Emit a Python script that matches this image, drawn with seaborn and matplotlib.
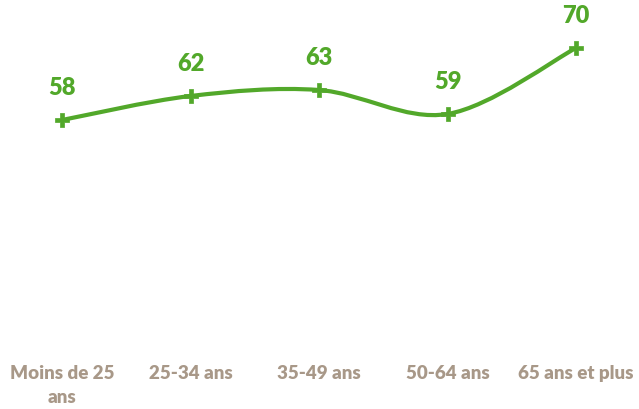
import numpy as np
import pandas as pd
import seaborn as sns
import matplotlib
matplotlib.use("Agg")
import matplotlib.pyplot as plt
from matplotlib.path import Path
from matplotlib.patches import PathPatch

categories = ["Moins de 25\nans", "25-34 ans", "35-49 ans", "50-64 ans", "65 ans et plus"]
values = [58, 62, 63, 59, 70]

GREEN = "#52a82a"
TAN = "#a89888"

sns.set_theme(style="white")
plt.rcParams["font.family"] = ["Lato", "DejaVu Sans"]

W, H = 639, 410
fig = plt.figure(figsize=(W / 100, H / 100), dpi=100)
ax_top, ax_bot = 13.5, 356.5
ax = fig.add_axes([0, 1 - ax_bot / H, 1, (ax_bot - ax_top) / H])

df = pd.DataFrame({"x": np.arange(len(values)), "v": values})

# smooth curve (Catmull-Rom style cubic Bezier between the data points)
xs = df["x"].to_numpy(dtype=float)
ys = df["v"].to_numpy(dtype=float)
n = len(xs)
verts = [(xs[0], ys[0])]
codes = [Path.MOVETO]
for i in range(n - 1):
    p0 = np.array([xs[max(i - 1, 0)], ys[max(i - 1, 0)]])
    p1 = np.array([xs[i], ys[i]])
    p2 = np.array([xs[i + 1], ys[i + 1]])
    p3 = np.array([xs[min(i + 2, n - 1)], ys[min(i + 2, n - 1)]])
    c1 = p1 + (p2 - p0) / 6
    c2 = p2 - (p3 - p1) / 6
    verts += [tuple(c1), tuple(c2), tuple(p2)]
    codes += [Path.CURVE4] * 3
ax.add_patch(PathPatch(Path(verts, codes), facecolor="none", edgecolor=GREEN,
                       lw=3, capstyle="round", joinstyle="round", zorder=2))

sns.scatterplot(data=df, x="x", y="v", marker="P", s=90, color=GREEN,
                edgecolor=GREEN, linewidth=0.5, ax=ax, zorder=3, legend=False)

for x, v in zip(xs, ys):
    ax.annotate(f"{int(v)}", (x, v), xytext=(0, 24), textcoords="offset points",
                ha="center", va="center", fontsize=17, fontweight="heavy", color=GREEN)

px_per_unit_x = (576 - 62) / 4
ax.set_xlim(-62 / px_per_unit_x, (W - 62) / px_per_unit_x)
px_per_unit_y = 6.0
ax.set_ylim(58 - (ax_bot - 121) / px_per_unit_y, 58 + (121 - ax_top) / px_per_unit_y)

ax.set_xticks(xs)
ax.set_xticklabels(categories, fontsize=13.5, fontweight="heavy", color=TAN,
                   linespacing=1.5)
ax.tick_params(axis="x", length=0, pad=6)
ax.set_yticks([])
ax.set_xlabel("")
ax.set_ylabel("")
for s in ax.spines.values():
    s.set_visible(False)
ax.patch.set_alpha(0)

fig.savefig("out.png", dpi=100, facecolor="white")
